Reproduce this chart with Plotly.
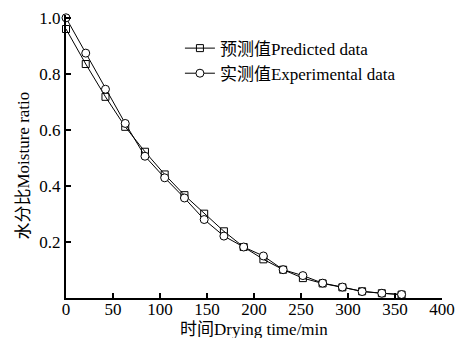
import plotly.graph_objects as go

time_min = [0, 21, 42, 63, 84, 105, 126, 147, 168, 189, 210, 231, 252, 273, 294, 315, 336, 357]
predicted = [0.96, 0.835, 0.718, 0.611, 0.522, 0.441, 0.367, 0.301, 0.238, 0.182, 0.138, 0.101, 0.071, 0.052, 0.038, 0.024, 0.017, 0.012]
experimental = [1.0, 0.874, 0.745, 0.623, 0.506, 0.429, 0.357, 0.280, 0.221, 0.182, 0.150, 0.101, 0.080, 0.053, 0.039, 0.023, 0.017, 0.0125]

x_title = "时间Drying time/min"
y_title = "水分比Moisture ratio"

font_fam = "Liberation Serif, Times New Roman, Noto Sans CJK SC, serif"

fig = go.Figure()
fig.add_trace(go.Scatter(
    x=time_min, y=predicted, mode="lines+markers", name="预测值Predicted data",
    line=dict(color="black", width=1),
    marker=dict(symbol="square-open", size=7, color="black", line=dict(width=1)),
    cliponaxis=False,
))
fig.add_trace(go.Scatter(
    x=time_min, y=experimental, mode="lines+markers", name="实测值Experimental data",
    line=dict(color="black", width=1),
    marker=dict(symbol="circle", size=8, color="white", line=dict(width=1, color="black")),
    cliponaxis=False,
))

fig.update_layout(
    width=457, height=338,
    margin=dict(l=66, r=15, t=15, b=40),
    paper_bgcolor="white", plot_bgcolor="white",
    font=dict(family=font_fam, size=17, color="black"),
    showlegend=True,
    legend=dict(x=0.303, y=0.945, xanchor="left", yanchor="top",
                bgcolor="rgba(0,0,0,0)", font=dict(size=17), tracegroupgap=0,
                itemwidth=30),
    xaxis=dict(range=[0, 400], tickvals=[0, 50, 100, 150, 200, 250, 300, 350, 400],
               ticks="inside", ticklen=5, tickwidth=1.5, tickcolor="black",
               showline=True, linecolor="black", linewidth=2, showgrid=False, zeroline=False,
               automargin=False, tickfont=dict(size=17), ticklabelstandoff=-5),
    yaxis=dict(range=[0, 1.01], tickvals=[0.2, 0.4, 0.6, 0.8, 1.0],
               ticktext=["0.2", "0.4", "0.6", "0.8", "1.0"],
               ticks="inside", ticklen=5, tickwidth=1.5, tickcolor="black",
               showline=True, linecolor="black", linewidth=2, showgrid=False, zeroline=False,
               automargin=False, tickfont=dict(size=17)),
    annotations=[
        dict(text=x_title, xref="paper", yref="paper", x=0.5, y=0,
             xanchor="center", yanchor="middle", yshift=-31, showarrow=False,
             font=dict(size=17)),
        dict(text=y_title, xref="paper", yref="paper", x=0, y=0.5,
             xanchor="center", yanchor="middle", xshift=-43, yshift=-9,
             textangle=-90, showarrow=False, font=dict(size=17)),
    ],
)

fig.write_html("out.html")
